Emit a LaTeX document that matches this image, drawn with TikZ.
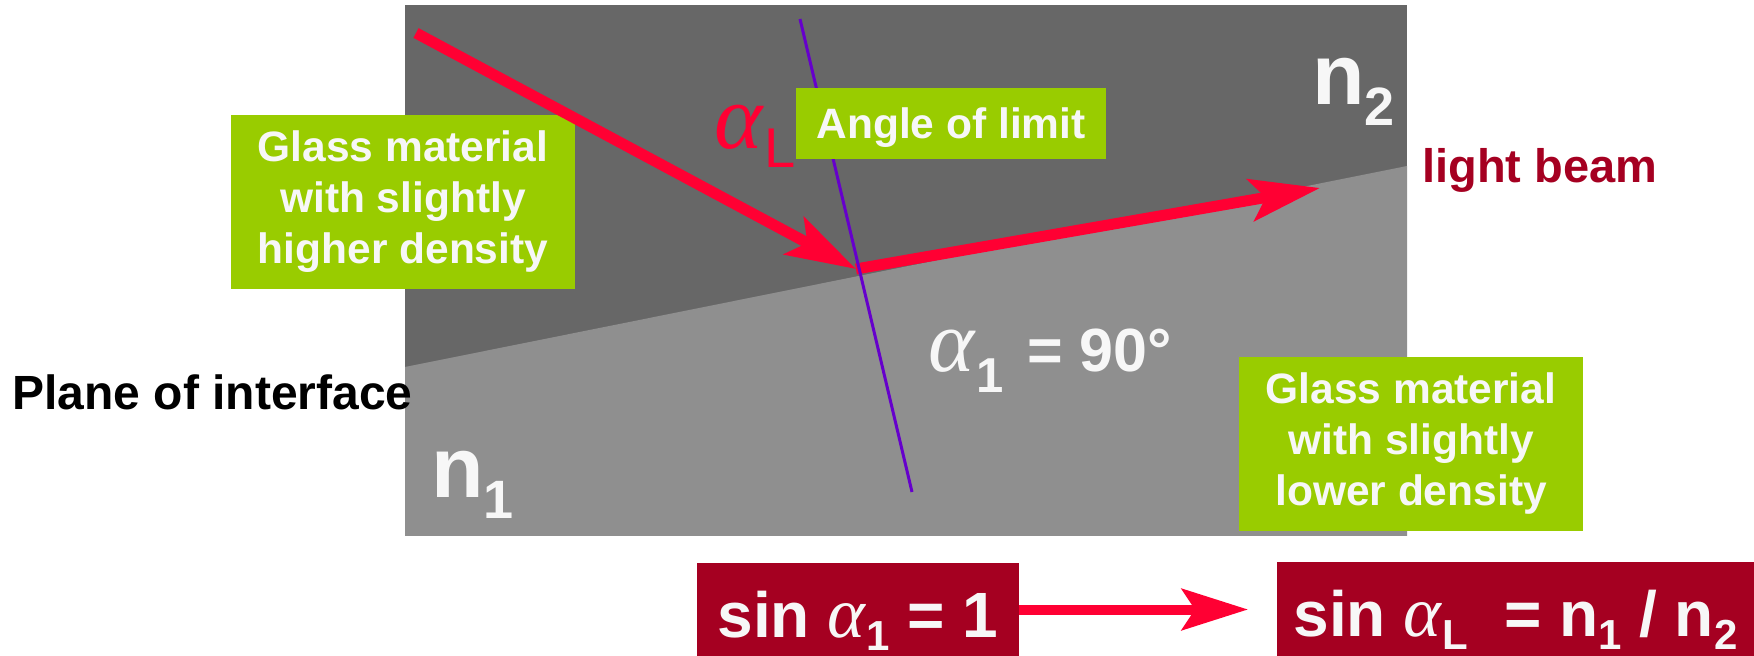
\documentclass[tikz,border=0pt]{standalone}
\usepackage{fontspec}
\setmainfont{Liberation Sans}
\newfontfamily\grk{Liberation Serif}
\usetikzlibrary{arrows.meta}
\definecolor{glassdark}{HTML}{676767}
\definecolor{glasslight}{HTML}{8F8F8F}
\definecolor{boxgreen}{HTML}{99CC00}
\definecolor{beamred}{HTML}{FF0033}
\definecolor{winered}{HTML}{A50021}
\definecolor{normalpurple}{HTML}{6600CC}
\definecolor{softwhite}{HTML}{F7F7F7}
\newcommand{\lowr}[3]{\raisebox{-#1}{\fontsize{#2}{#2}\selectfont #3}}
\newcommand{\alf}[1]{{\grk\mdseries\itshape\fontsize{#1}{#1}\selectfont α\/}}
\begin{document}
\begin{tikzpicture}[x=0.5pt,y=-0.5pt,
  greenbox/.style={fill=boxgreen,text=softwhite,font=\bfseries\fontsize{21.25}{25.5}\selectfont,align=center,inner sep=0pt},
  redbox/.style={fill=winered,text=softwhite,font=\bfseries\fontsize{32}{38}\selectfont,inner sep=0pt,text height=27.5pt,text depth=0pt},
  beam/.style={draw=beamred,line width=5.5pt,-{Stealth[length=35pt,width=21pt,inset=7.5pt]}},
  label/.style={anchor=base west,inner sep=0pt},
  ]
\useasboundingbox (0,0) rectangle (1754,656);
% glass blocks
\fill[glassdark] (405,5) rectangle (1407,536);
\fill[glasslight] (405,367) -- (1407,166) -- (1407,536) -- (405,536) -- cycle;
% boxes under the beam
\node[greenbox,minimum width=172pt,minimum height=87pt] (highbox) at (403,202) {Glass material\\with slightly\\higher density};
\node[greenbox,minimum width=172pt,minimum height=87pt] (lowbox) at (1411,444) {Glass material\\with slightly\\lower density};
% light beam
\coordinate (rayin) at (416,33);
\coordinate (hit) at (856,269);
\coordinate (rayout) at (1320,188);
\draw[beam] (rayin) -- (hit);
\draw[beam] (hit) -- (rayout);
% normal
\coordinate (normtop) at (800,19);
\coordinate (normbot) at (912,492);
\draw[normalpurple,line width=1.5pt] (normtop) -- (normbot);
\node[greenbox,minimum width=155pt,minimum height=35.5pt,text height=15.5pt,text depth=0pt] (anglebox) at (951,123.5) {Angle of limit};
% labels
\node[label,text=beamred] (alphaL) at (714,149) {\alf{46}\lowr{9.5pt}{28}{L}};
\node[label,text=softwhite,font=\bfseries\fontsize{30.5}{30.5}\selectfont] (alphaone) at (928,372) {\alf{44}\lowr{10.5pt}{24.5}{1}\hspace{12pt}= 90°};
\node[label,text=softwhite,font=\bfseries\fontsize{43}{43}\selectfont] (ntwo) at (1312,105) {n\lowr{10.5pt}{27}{2}};
\node[label,text=softwhite,font=\bfseries\fontsize{43}{43}\selectfont] (none) at (431,498) {n\lowr{10.5pt}{27}{1}};
\node[label,font=\bfseries\fontsize{24}{24}\selectfont] (plane) at (12,410) {Plane of interface};
\node[label,text=winered,font=\bfseries\fontsize{23.5}{23.5}\selectfont] (beamlabel) at (1422,183) {light beam};
% formulas
\node[redbox,minimum width=161pt,minimum height=46.5pt] (sinone) at (858,609.5) {sin \alf{36}\lowr{6.5pt}{21}{1} = 1};
\node[redbox,minimum width=238.5pt,minimum height=47pt] (sinL) at (1515.5,609) {sin \alf{36}\lowr{6.5pt}{21}{L}\ \ = n\lowr{6.5pt}{21}{1} / n\lowr{6.5pt}{21}{2}};
\coordinate (sinarrowend) at (1248,609.5);
\draw[beam,line width=5pt,-{Stealth[length=33pt,width=20.5pt,inset=6.5pt]}] (sinone.east) -- (sinarrowend);
\end{tikzpicture}
\end{document}
